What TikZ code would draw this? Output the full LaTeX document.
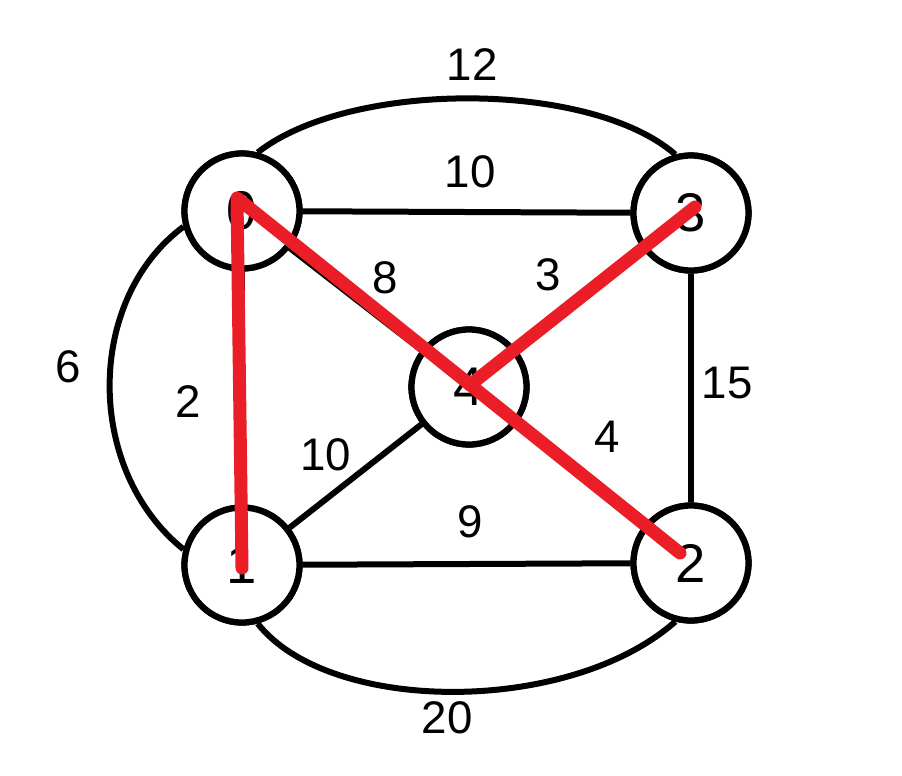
\documentclass[tikz,border=0pt]{standalone}
\usepackage{fontspec}
\setmainfont{Liberation Sans}
\definecolor{redline}{RGB}{235,30,40}
\tikzset{
  vert/.style={circle, draw=black, line width=0.125cm, minimum size=2.3cm, inner sep=0pt, fill=white, font=\fontsize{31}{31}\selectfont},
  edge/.style={draw=black, line width=0.12cm},
  wlab/.style={font=\fontsize{26}{26}\selectfont, inner sep=0pt},
  redpath/.style={draw=redline, line width=0.26cm, line cap=round, line join=round}
}
\begin{document}
\begin{tikzpicture}[x=0.02cm, y=-0.02cm]
\useasboundingbox[fill=white] (0,0) rectangle (902,775);
% nodes
\node[vert] (n0) at (242,211) {0};
\node[vert] (n3) at (691,213) {3};
\node[vert] (n4) at (469,387) {4};
\node[vert] (n1) at (242,565) {1};
\node[vert] (n2) at (691,563) {2};
% straight edges
\draw[edge] (n0) -- (n3);
\draw[edge] (n0) -- (n1);
\draw[edge] (n3) -- (n2);
\draw[edge] (n1) -- (n2);
\draw[edge] (n0) -- (n4);
\draw[edge] (n3) -- (n4);
\draw[edge] (n4) -- (n1);
\draw[edge] (n4) -- (n2);
% outer arcs
\draw[edge] (n0.75) .. controls (350,80) and (590,80) .. (n3.105);
\draw[edge] (n0.195) .. controls (85,300) and (85,470) .. (n1.165);
\draw[edge] (n1.285) .. controls (330,715) and (570,715) .. (n2.255);
% redraw nodes on top of edges
\node[vert] at (n0) {0};
\node[vert] at (n3) {3};
\node[vert] at (n4) {4};
\node[vert] at (n1) {1};
\node[vert] at (n2) {2};
% weights
\node[wlab] (w12) at (472,65) {12};
\node[wlab] (w10a) at (470,172) {10};
\node[wlab] (w8) at (385,278) {8};
\node[wlab] (w3) at (548,275) {3};
\node[wlab] (w6) at (68,367) {6};
\node[wlab] (w2) at (188,402) {2};
\node[wlab] (w15) at (727,383) {15};
\node[wlab] (w10b) at (326,455) {10};
\node[wlab] (w4) at (607,437) {4};
\node[wlab] (w9) at (470,522) {9};
\node[wlab] (w20) at (447,718) {20};
% red path
\coordinate (r0) at (237,198);
\coordinate (r1) at (242,568);
\coordinate (r2) at (680,553);
\coordinate (r3) at (695,207);
\coordinate (r4) at (470,385);
\draw[redpath] (r1) -- (r0) -- (r2);
\draw[redpath] (r4) -- (r3);
\end{tikzpicture}
\end{document}
